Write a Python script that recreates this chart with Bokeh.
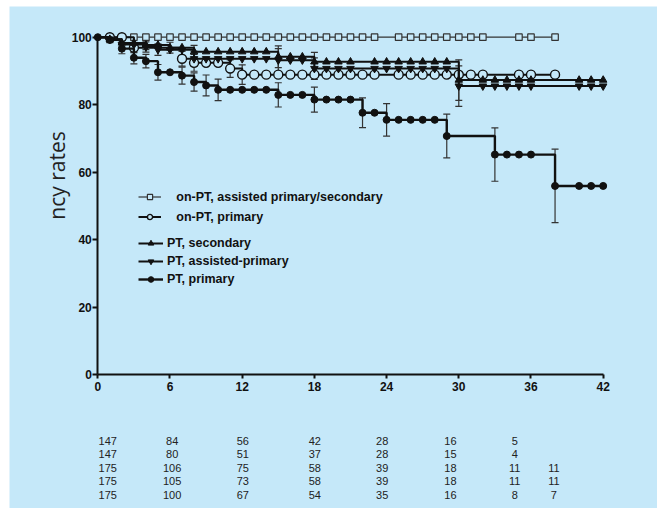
import math
from bokeh.plotting import figure
from bokeh.models import (Range1d, LinearAxis, FixedTicker, ColumnDataSource, Whisker,
                          TeeHead, Legend, LegendItem, Label)
from bokeh.core.properties import value
from bokeh.embed import file_html
from bokeh.resources import INLINE

# ---------------- data ----------------
x_ticks = [0, 6, 12, 18, 24, 30, 36, 42]
y_ticks = [0, 20, 40, 60, 80, 100]
y_title = "ncy rates"

series_names = ["on-PT, assisted primary/secondary", "on-PT, primary",
                "PT, secondary", "PT, assisted-primary", "PT, primary"]

# on-PT, assisted primary/secondary (open squares)
oa_t = [0, 3, 4, 5, 6, 7, 8, 9, 10, 11, 12, 13, 14, 15, 16, 17, 18, 19, 20, 21, 22, 23,
        25, 26, 27, 28, 29, 30, 31, 32, 35, 36, 38]
oa_v = [100, 100, 100, 100, 100, 100, 100, 100, 100, 100, 100, 100, 100, 100, 100, 100,
        100, 100, 100, 100, 100, 100, 100, 100, 100, 100, 100, 100, 100, 100, 100, 100, 100]

# on-PT, primary (open circles)
op_t = [0, 1, 2, 3, 7, 8, 9, 10, 11, 12, 13, 14, 15, 16, 17, 18, 19, 20, 21, 22, 23,
        25, 26, 27, 28, 29, 30, 31, 32, 35, 36, 38]
op_v = [100, 100, 100, 96.9, 93.6, 92.4, 92.4, 92.4, 90.7, 88.9, 88.9,
        88.9, 88.9, 88.9, 88.9, 88.9, 88.9, 88.9, 88.9, 88.9, 88.9, 88.9, 88.9, 88.9, 88.9,
        88.9, 88.9, 88.9, 88.9, 88.9, 88.9, 88.9]
op_err_t = [3, 7, 8, 11, 12]
op_err_v = [96.9, 93.6, 92.4, 90.7, 88.9]
op_err_h = [1.5, 2.2, 2.5, 2.6, 2.9]

# PT, secondary (up triangles)
ps_t = [0, 1, 2, 3, 4, 5, 6, 7, 8, 9, 10, 11, 12, 13, 14, 15, 16, 17, 18, 19, 20, 21, 23, 24,
        25, 26, 27, 28, 29, 30, 32, 33, 34, 35, 36, 40, 41, 42]
ps_v = [100, 99.4, 98.3, 98.3, 97.7, 97.7, 96.9, 96.9, 95.7, 95.7, 95.7, 95.7, 95.7, 95.7,
        95.7, 94.2, 94.2, 94.2, 92.7, 92.7, 92.7, 92.7, 92.7, 92.7, 92.7, 92.7, 92.7, 92.7,
        92.7, 87.3, 87.3, 87.3, 87.3, 87.3, 87.3, 87.3, 87.3, 87.3]
ps_err_t = [1, 2, 4, 6, 8, 15, 18, 30]
ps_err_v = [99.4, 98.3, 97.7, 96.9, 95.7, 94.2, 92.7, 87.3]
ps_err_h = [0.8, 1.2, 1.4, 1.6, 1.9, 3.2, 2.8, 6.0]

# PT, assisted-primary (down triangles)
pa_t = [0, 1, 2, 3, 4, 5, 6, 7, 8, 9, 10, 11, 12, 13, 14, 15, 16, 17, 18, 19, 20, 21, 23, 24,
        25, 26, 27, 28, 29, 30, 32, 33, 34, 35, 36, 40, 41, 42]
pa_v = [100, 99.4, 97.8, 97.8, 97.1, 96.3, 96.3, 96.3, 93.6, 93.6, 93.6, 93.6, 93.6, 93.6,
        93.6, 93.2, 93.2, 93.2, 90.7, 90.7, 90.7, 90.7, 90.7, 90.7, 90.7, 90.7, 90.7, 90.7,
        90.7, 85.5, 85.5, 85.5, 85.5, 85.5, 85.5, 85.5, 85.5, 85.5]
pa_err_t = [1, 2, 4, 5, 8, 15, 18, 30]
pa_err_v = [99.4, 97.8, 97.1, 96.3, 93.6, 93.2, 90.7, 85.5]
pa_err_h = [0.8, 1.3, 1.5, 1.7, 2.2, 3.4, 3.2, 6.0]

# PT, primary (filled circles)
pp_t = [0, 1, 2, 3, 4, 5, 6, 7, 8, 9, 10, 11, 12, 13, 14, 15, 16, 17, 18, 19, 20, 21, 22, 23,
        24, 25, 26, 27, 28, 29, 33, 34, 35, 36, 38, 40, 41, 42]
pp_v = [100, 99.2, 96.6, 93.9, 92.9, 89.6, 89.6, 88.6, 86.7, 85.7, 84.4, 84.4, 84.4, 84.4,
        84.4, 82.9, 82.9, 82.9, 81.5, 81.5, 81.5, 81.5, 77.6, 77.6, 75.5, 75.5, 75.5, 75.5,
        75.5, 70.7, 65.2, 65.2, 65.2, 65.2, 55.9, 55.9, 55.9, 55.9]
pp_err_t = [1, 2, 3, 4, 5, 7, 8, 9, 10, 15, 18, 22, 24, 29, 33, 38]
pp_err_v = [99.2, 96.6, 93.9, 92.9, 89.6, 88.6, 86.7, 85.7, 84.4, 82.9, 81.5, 77.6, 75.5,
            70.7, 65.2, 55.9]
pp_err_h = [0.8, 1.5, 1.8, 2.0, 2.3, 2.5, 2.7, 3.1, 3.2, 3.6, 3.7, 4.4, 4.8, 6.5, 7.9, 10.9]

# numbers at risk (one row per series, legend order)
risk_oa = ["147", "84", "56", "42", "28", "16", "5"]
risk_op = ["147", "80", "51", "37", "28", "15", "4"]
risk_ps = ["175", "106", "75", "58", "39", "18", "11", "11"]
risk_pa = ["175", "105", "73", "58", "39", "18", "11", "11"]
risk_pp = ["175", "100", "67", "54", "35", "16", "8", "7"]

# ---------------- layout ----------------
BG = "#c5e8f9"
INK = "#111111"
LEFT, TOP = 9, 6                 # page offset of the figure
W, H = 648, 502
PX_X = 12.033                    # px per month
PX_Y = 3.373                     # px per percent
AX_X, AX_Y = 97.3, 374.0         # page position of the (0, 0) corner
x_start = -(AX_X - LEFT) / PX_X
x_end = x_start + W / PX_X
y_start = -(TOP + H - AX_Y) / PX_Y
y_end = y_start + H / PX_Y


def dx(px):
    return (px - AX_X) / PX_X


def dy(py):
    return (AX_Y - py) / PX_Y


p = figure(width=W, height=H, x_range=Range1d(x_start, x_end), y_range=Range1d(y_start, y_end),
           output_backend="svg", toolbar_location=None, x_axis_type=None, y_axis_type=None,
           min_border=0, min_border_left=0, min_border_right=0, min_border_top=0,
           min_border_bottom=0, background_fill_color=BG, border_fill_color=BG,
           outline_line_color=None, margin=(TOP, 0, 0, LEFT))

TICK_FONT = "Liberation Sans"
xaxis = LinearAxis(fixed_location=0, bounds=(0, 42), ticker=FixedTicker(ticks=x_ticks),
                   axis_line_width=2, axis_line_color=INK, major_tick_line_width=2,
                   major_tick_line_color=INK, major_tick_out=4, major_tick_in=0,
                   minor_tick_out=0, minor_tick_in=0, major_label_standoff=3,
                   major_label_text_font=TICK_FONT, major_label_text_font_style="bold",
                   major_label_text_font_size="12px", major_label_text_color=INK)
p.add_layout(xaxis, "below")
yaxis = LinearAxis(fixed_location=0, bounds=(0, 100), ticker=FixedTicker(ticks=y_ticks),
                   axis_line_width=2, axis_line_color=INK, major_tick_line_width=2,
                   major_tick_line_color=INK, major_tick_out=5, major_tick_in=0,
                   minor_tick_out=0, minor_tick_in=0, major_label_standoff=1,
                   major_label_text_font=TICK_FONT, major_label_text_font_style="bold",
                   major_label_text_font_size="12px", major_label_text_color=INK)
p.add_layout(yaxis, "left")


def whiskers(ts, vs, hs):
    src = ColumnDataSource(dict(base=ts, lower=[v - h for v, h in zip(vs, hs)],
                                upper=[v + h for v, h in zip(vs, hs)]))
    w = Whisker(base="base", lower="lower", upper="upper", source=src,
                line_color="#333333", line_width=1.2,
                upper_head=TeeHead(size=7, line_color="#333333", line_width=1.2),
                lower_head=TeeHead(size=7, line_color="#333333", line_width=1.2))
    p.add_layout(w)


whiskers(op_err_t, op_err_v, op_err_h)
whiskers(ps_err_t, ps_err_v, ps_err_h)
whiskers(pa_err_t, pa_err_v, pa_err_h)
whiskers(pp_err_t, pp_err_v, pp_err_h)

# curves
l_oa = p.step(oa_t, oa_v, mode="after", line_color="#333333", line_width=1.2)
s_oa = p.scatter(oa_t[1:], oa_v[1:], marker="square", size=6.5, fill_color=BG,
                 line_color="#333333", line_width=1.2)

l_op = p.step(op_t, op_v, mode="after", line_color=INK, line_width=2)
s_op = p.scatter(op_t[1:], op_v[1:], marker="circle", size=9, fill_color=BG,
                 line_color=INK, line_width=1.4)

l_ps = p.step(ps_t, ps_v, mode="after", line_color=INK, line_width=2)
s_ps = p.scatter(ps_t[1:], ps_v[1:], marker="triangle", size=7.5, fill_color=INK,
                 line_color=INK)

l_pa = p.step(pa_t, pa_v, mode="after", line_color=INK, line_width=2)
s_pa = p.scatter(pa_t[1:], pa_v[1:], marker="inverted_triangle", size=7.5, fill_color=INK,
                 line_color=INK)

l_pp = p.step(pp_t, pp_v, mode="after", line_color=INK, line_width=2.4)
s_pp = p.scatter(pp_t, pp_v, marker="circle", size=7, fill_color=INK, line_color=INK)

# legends (location = bottom-left corner, px from the frame's bottom-left)
leg_common = dict(orientation="vertical", spacing=0, padding=0, margin=0,
                  border_line_color=None, background_fill_alpha=0,
                  label_text_font=TICK_FONT, label_text_font_style="bold",
                  label_text_font_size="12.5px", label_text_color=INK)
legA = Legend(items=[LegendItem(label=series_names[0], renderers=[l_oa, s_oa]),
                     LegendItem(label=series_names[1], renderers=[l_op, s_op])],
              location=(138.3 - LEFT, TOP + H - 226.7), glyph_width=23, glyph_height=13,
              label_height=20, label_standoff=15, **leg_common)
legB = Legend(items=[LegendItem(label=series_names[2], renderers=[l_ps, s_ps]),
                     LegendItem(label=series_names[3], renderers=[l_pa, s_pa]),
                     LegendItem(label=series_names[4], renderers=[l_pp, s_pp])],
              location=(138.0 - LEFT, TOP + H - 288.3), glyph_width=25, glyph_height=14,
              label_height=18, label_standoff=4, **leg_common)
p.add_layout(legA)
p.add_layout(legB)

# y title
p.add_layout(Label(x=dx(56.5), y=dy(175), text=y_title,
                   angle=math.pi / 2, text_align="center", text_baseline="middle",
                   text_font="Open Sans", text_font_size="21px", text_color="#222222"))

# numbers-at-risk table
col_x = [0.83, 6.18, 12.05, 18.03, 23.63, 29.31, 34.65, 37.9]
rows = [risk_oa, risk_op, risk_ps, risk_pa, risk_pp]
tx, ty, tt = [], [], []
for i, row in enumerate(rows):
    for j, s in enumerate(row):
        tx.append(col_x[j])
        ty.append(dy(440 + i * 13.5))
        tt.append(s)
p.text(x="x", y="y", text="t", source=ColumnDataSource(dict(x=tx, y=ty, t=tt)),
       text_align="center", text_baseline="middle", text_font=value(TICK_FONT),
       text_font_size="11px", text_color="#222222")

open("out.html", "w").write(file_html(p, INLINE))
